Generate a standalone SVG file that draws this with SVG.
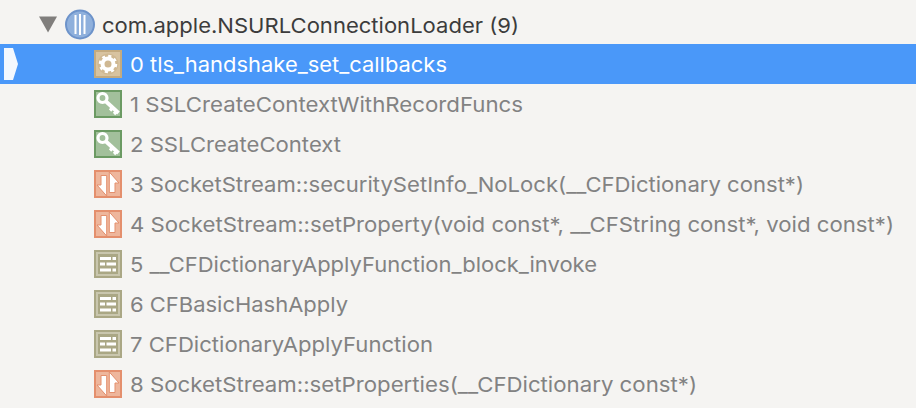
<svg xmlns="http://www.w3.org/2000/svg" width="916" height="408" viewBox="0 0 916 408">
<style>
text{font-family:"Inter","Liberation Sans",sans-serif;font-size:20.5px;fill:#828282}
.h{fill:#3c3c3c}
.s{fill:#fff}
</style>
<defs>
<g id="gear">
<rect x="1" y="1" width="26" height="26" fill="#d8c3a0" stroke="#c4ab80" stroke-width="2"/>
<circle cx="14" cy="14" r="10.500" fill="#c9b189" opacity=".6"/>
<circle cx="14" cy="14" r="5.500" fill="none" stroke="#fff" stroke-width="4"/>
<circle cx="14" cy="14" r="8" fill="none" stroke="#fff" stroke-width="2.500" stroke-dasharray="3.100 3.180"/>
</g>
<g id="key">
<rect x="1" y="1" width="26" height="26" fill="#a2c09b" stroke="#6b9a63" stroke-width="2"/>
<circle cx="8.500" cy="8" r="4.500" fill="none" stroke="#fff" stroke-width="3.200"/>
<path d="M12 11.500 24.500 23" stroke="#fff" stroke-width="3.800" fill="none"/>
<path d="M18.500 18 16 20.500M22.500 21.500 20 24" stroke="#fff" stroke-width="3.200" fill="none"/>
</g>
<g id="arrows">
<rect x="1" y="1" width="26" height="26" fill="#eeb69c" stroke="#e48f6d" stroke-width="2"/>
<path d="M7 5.500H12.700V26L3 15H7Z" fill="#fff" stroke="#e48f6d"/>
<path d="M15.300 2 25 13H21V22.500H15.300Z" fill="#fff" stroke="#e48f6d"/>
</g>
<g id="bricks">
<rect x="1" y="1" width="26" height="26" fill="#c9c6ae" stroke="#aaa785" stroke-width="2"/>
<rect x="4" y="4" width="20" height="20" fill="#aaa785"/>
<path d="M6 7H17V10H6ZM18.500 7H22V10H18.500ZM6 12.500H11V15.500H6ZM12.500 12.500H22V15.500H12.500ZM6 18.500H17V21.500H6ZM18.500 18.500H22V21.500H18.500Z" fill="#fff"/>
</g>
</defs>
<rect width="916" height="408" fill="#f5f4f2"/>
<g id="thread-header">
<path d="M39 16.500H57L48 32.500Z" fill="#807e7c"/>
<circle cx="80" cy="24.500" r="14" fill="#8fb0dc" stroke="#6d93ca" stroke-width="2"/>
<path d="M75.500 15V34M80 14V35M84.500 15V34" stroke="#fff" stroke-width="2" fill="none"/>
<text class="h" x="102" y="33" textLength="417" lengthAdjust="spacingAndGlyphs">com.apple.NSURLConnectionLoader (9)</text>
</g>
<g id="frame-0">
<rect x="0" y="44" width="916" height="40" fill="#4a98f9"/>
<path d="M4 48H13L18 64L13 80H4Z" fill="#f4f8fe"/>
<use href="#gear" x="94" y="50"/>
<text class="s" x="130" y="72" textLength="317" lengthAdjust="spacingAndGlyphs">0 tls_handshake_set_callbacks</text>
</g>
<g id="frame-1"><use href="#key" x="94" y="90"/><text x="130" y="112" textLength="393" lengthAdjust="spacingAndGlyphs">1 SSLCreateContextWithRecordFuncs</text></g>
<g id="frame-2"><use href="#key" x="94" y="130"/><text x="130" y="152" textLength="211" lengthAdjust="spacingAndGlyphs">2 SSLCreateContext</text></g>
<g id="frame-3"><use href="#arrows" x="94" y="170"/><text x="130" y="192" textLength="674" lengthAdjust="spacingAndGlyphs">3 SocketStream::securitySetInfo_NoLock(__CFDictionary const*)</text></g>
<g id="frame-4"><use href="#arrows" x="94" y="210"/><text x="130" y="232" textLength="764" lengthAdjust="spacingAndGlyphs">4 SocketStream::setProperty(void const*, __CFString const*, void const*)</text></g>
<g id="frame-5"><use href="#bricks" x="94" y="250"/><text x="130" y="272" textLength="467" lengthAdjust="spacingAndGlyphs">5 __CFDictionaryApplyFunction_block_invoke</text></g>
<g id="frame-6"><use href="#bricks" x="94" y="290"/><text x="130" y="312" textLength="218" lengthAdjust="spacingAndGlyphs">6 CFBasicHashApply</text></g>
<g id="frame-7"><use href="#bricks" x="94" y="330"/><text x="130" y="352" textLength="303" lengthAdjust="spacingAndGlyphs">7 CFDictionaryApplyFunction</text></g>
<g id="frame-8"><use href="#arrows" x="94" y="370"/><text x="130" y="392" textLength="567" lengthAdjust="spacingAndGlyphs">8 SocketStream::setProperties(__CFDictionary const*)</text></g>
</svg>
